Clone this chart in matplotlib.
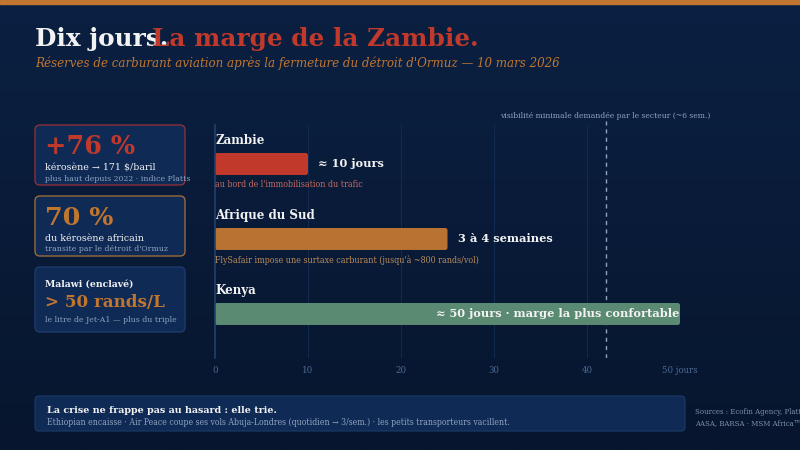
import numpy as np
import matplotlib
matplotlib.use("Agg")
import matplotlib.pyplot as plt
from matplotlib.patches import FancyBboxPatch, Rectangle

# data
countries = ["Zambie", "Afrique du Sud", "Kenya"]
days = [10, 25, 50]
bar_colors = ["#c0392b", "#b87333", "#5b8a72"]
value_labels = ["≈ 10 jours", "3 à 4 semaines", "≈ 50 jours · marge la plus confortable"]
notes = ["au bord de l'immobilisation du trafic",
         "FlySafair impose une surtaxe carburant (jusqu'à ~800 rands/vol)",
         ""]
note_colors = ["#c46a5e", "#b98a5a", "#8fa3c0"]
threshold = 42  # ~6 semaines
xticks = [0, 10, 20, 30, 40, 50]
xtick_labels = ["0", "10", "20", "30", "40", "50 jours"]

W, H = 800, 450
SERIF = "DejaVu Serif"
WHITE = "#f2f2f2"
MUTED = "#8fa3c0"

fig = plt.figure(figsize=(8, 4.5), dpi=100)

# background axes in pixel coords
bg = fig.add_axes([0, 0, 1, 1], zorder=0)
bg.set_xlim(0, W)
bg.set_ylim(H, 0)
bg.axis("off")
grad = np.linspace(0, 1, 256).reshape(-1, 1)
top = np.array([11, 32, 66]) / 255
bot = np.array([7, 22, 46]) / 255
img = top + (bot - top) * grad[..., None]
bg.imshow(img, extent=[0, W, H, 0], aspect="auto", zorder=0)
bg.add_patch(Rectangle((0, 0), W, 4, color="#c0762f", zorder=1))

# title
bg.text(35, 46, "Dix jours.", color=WHITE, fontsize=17.8, fontweight="bold",
        family=SERIF, va="baseline")
bg.text(152, 46, "La marge de la Zambie.", color="#c0392b", fontsize=17.8,
        fontweight="bold", family=SERIF, va="baseline")
bg.text(35, 67, "Réserves de carburant aviation après la fermeture du détroit d'Ormuz — 10 mars 2026",
        color="#c0762f", fontsize=8.6, style="italic", family=SERIF, va="baseline")


def card(y0, h, edge):
    bg.add_patch(FancyBboxPatch((35, y0), 150, h, boxstyle="round,pad=0,rounding_size=5",
                                facecolor="#0f2a55", edgecolor=edge, lw=1.0, zorder=2))


card(125, 60, "#8b2f3a")
bg.text(45, 154, "+76 %", color="#c0392b", fontsize=18.4, fontweight="bold", family=SERIF, va="baseline", zorder=3)
bg.text(45, 170, "kérosène → 171 $/baril", color=WHITE, fontsize=6.8, family=SERIF, va="baseline", zorder=3)
bg.text(45, 181, "plus haut depuis 2022 · indice Platts", color=MUTED, fontsize=5.6, family=SERIF, va="baseline", zorder=3)

card(196, 60, "#9a6a3a")
bg.text(45, 225, "70 %", color="#c0762f", fontsize=18.3, fontweight="bold", family=SERIF, va="baseline", zorder=3)
bg.text(45, 241, "du kérosène africain", color=WHITE, fontsize=6.8, family=SERIF, va="baseline", zorder=3)
bg.text(45, 251, "transite par le détroit d'Ormuz", color=MUTED, fontsize=5.6, family=SERIF, va="baseline", zorder=3)

card(267, 65, "#1d3b6a")
bg.text(45, 287, "Malawi (enclavé)", color=WHITE, fontsize=6.7, fontweight="bold", family=SERIF, va="baseline", zorder=3)
bg.text(45, 307, "> 50 rands/L", color="#c0762f", fontsize=12.1, fontweight="bold", family=SERIF, va="baseline", zorder=3)
bg.text(45, 322, "le litre de Jet-A1 — plus du triple", color=MUTED, fontsize=5.6, family=SERIF, va="baseline", zorder=3)

# bottom box
bg.add_patch(FancyBboxPatch((35, 396), 650, 35, boxstyle="round,pad=0,rounding_size=4",
                            facecolor="#0f2a55", edgecolor="#1d3b6a", lw=0.8, zorder=2))
bg.text(47, 413, "La crise ne frappe pas au hasard : elle trie.", color=WHITE, fontsize=6.9,
        fontweight="bold", family=SERIF, va="baseline", zorder=3)
bg.text(47, 425, "Ethiopian encaisse · Air Peace coupe ses vols Abuja-Londres (quotidien → 3/sem.) · les petits transporteurs vacillent.",
        color=MUTED, fontsize=6.2, family=SERIF, fontstretch="condensed", va="baseline", zorder=3)
bg.text(695, 414, "Sources : Ecofin Agency, Platts", color="#7d8fab", fontsize=5.6, family=SERIF,
        fontstretch="condensed", va="baseline", zorder=3)
bg.text(695, 425, "AASA, BARSA · MSM Africa™", color="#7d8fab", fontsize=5.6, family=SERIF,
        fontstretch="condensed", va="baseline", zorder=3)

# chart axes: x 0..50 -> 215..680 px, y from 125 to 358 px
ax = fig.add_axes([215 / W, 1 - 358 / H, 465 / W, 233 / H], zorder=1)
ax.patch.set_alpha(0)
ax.set_xlim(0, 50)
ax.set_ylim(2.587, -0.52)
for s in ["top", "right", "bottom"]:
    ax.spines[s].set_visible(False)
ax.spines["left"].set_color("#22406e")
ax.spines["left"].set_linewidth(1.2)
ax.set_yticks([])
ax.set_xticks(xticks)
ax.set_xticklabels(xtick_labels, color="#4d6a94", fontsize=6.2, family=SERIF)
ax.tick_params(axis="x", length=0, pad=6)
for t in xticks[1:]:
    ax.axvline(t, color="#102a50", lw=0.8, zorder=0)

bar_h = 0.293
y = np.arange(len(countries))
bars = ax.barh(y, days, height=bar_h, color=bar_colors, zorder=2)
# rounded corners: x unit ~9.3 px, y unit ~75 px
for b in bars:
    b.set_visible(False)
    ax.add_patch(FancyBboxPatch((b.get_x(), b.get_y()), b.get_width(), b.get_height(),
                                boxstyle="round,pad=0,rounding_size=0.25",
                                mutation_aspect=0.124, facecolor=b.get_facecolor(),
                                edgecolor="none", zorder=2))

for i, (c, d, lab, note) in enumerate(zip(countries, days, value_labels, notes)):
    ax.text(0, i - bar_h / 2 - 0.08, c, color=WHITE, fontsize=8.6, fontweight="bold",
            family=SERIF, va="bottom", ha="left")
    if i < 2:
        ax.text(d + 1.1, i, lab, color=WHITE, fontsize=8.2, fontweight="bold",
                family=SERIF, va="center", ha="left")
    else:
        ax.text(d - 0.1, i, lab, color=WHITE, fontsize=8.2, fontweight="bold",
                family=SERIF, va="center", ha="right", zorder=3)
    if note:
        ax.text(0, i + bar_h / 2 + 0.07, note, color=note_colors[i], fontsize=6.4,
                family=SERIF, fontstretch="condensed", va="top", ha="left")

ax.axvline(threshold, color="#8fa3c0", lw=1, ls=(0, (3, 3)), zorder=1)
ax.text(threshold, -0.62, "visibilité minimale demandée par le secteur (~6 sem.)",
        color=MUTED, fontsize=6.1, family=SERIF, fontstretch="condensed", ha="center",
        va="baseline", clip_on=False)
# dashed line extends a bit above the axes top
ax.plot([threshold, threshold], [-0.52, -0.58], color="#8fa3c0", lw=1, ls=(0, (3, 3)), clip_on=False)

fig.savefig("out.png", dpi=100)
